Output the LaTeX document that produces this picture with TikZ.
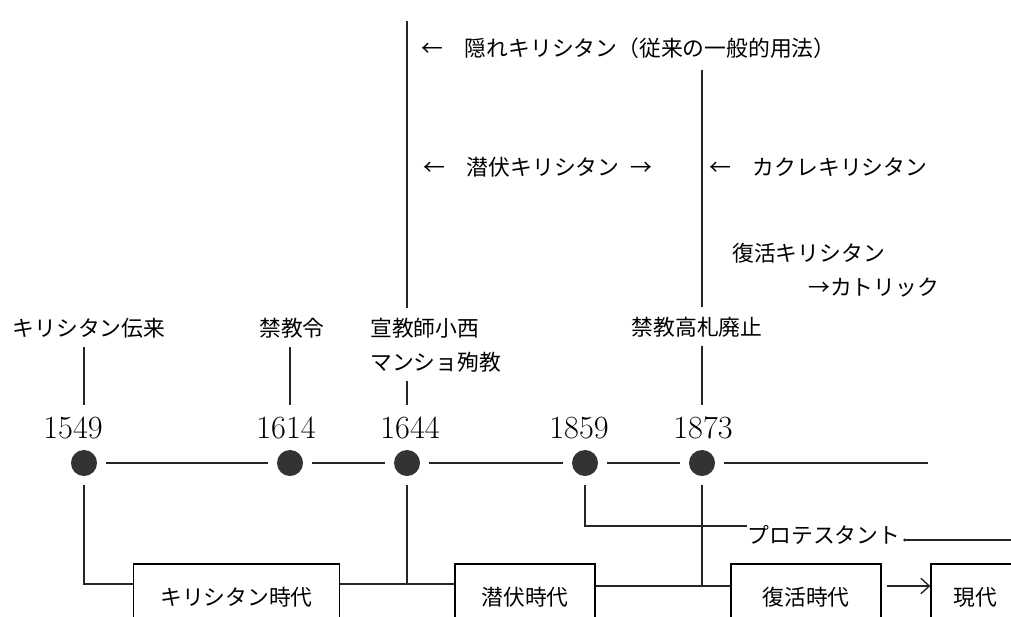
\documentclass[tikz,border=0pt]{standalone}
\usepackage{fontspec}
\newfontfamily\jp{Noto Sans CJK JP}
\usepackage{tikz}
\usetikzlibrary{arrows.meta}

\begin{document}
\begin{tikzpicture}[x=0.025cm, y=-0.025cm,
        dot/.style={circle, fill=black!80, inner sep=0pt, minimum size=18.5pt},
        jtext/.style={font=\jp\fontsize{15.5}{24}\selectfont, inner sep=0pt},
        year/.style={font=\fontsize{23}{26}\selectfont, inner sep=0pt},
        era/.style={draw, line width=0.9pt, font=\jp\fontsize{15.5}{18}\selectfont, minimum height=47pt, inner sep=0pt},
        line/.style={line width=1pt, black!85}]
        \useasboundingbox (0,0) rectangle (1011,617);

        % timeline
        \node[dot] (d1549) at (84,463) {};
        \node[dot] (d1614) at (290,463) {};
        \node[dot] (d1644) at (407,463) {};
        \node[dot] (d1859) at (585,463) {};
        \node[dot] (d1873) at (702,463) {};
        \coordinate (tend) at (928,463);

        \node[year] (y1549) at (73,428) {1549};
        \node[year] (y1614) at (286,428) {1614};
        \node[year] (y1644) at (410,428) {1644};
        \node[year] (y1859) at (579,428) {1859};
        \node[year] (y1873) at (703,428) {1873};

        \draw[line, shorten <=6.4pt, shorten >=6.4pt] (d1549) to (d1614);
        \draw[line, shorten <=6.4pt, shorten >=6.4pt] (d1614) to (d1644);
        \draw[line, shorten <=6.4pt, shorten >=6.4pt] (d1644) to (d1859);
        \draw[line, shorten <=6.4pt, shorten >=6.4pt] (d1859) to (d1873);
        \draw[line, shorten <=6.4pt] (d1873) to (tend);

        % events
        \node[jtext] (e1549) at (89,328) {キリシタン伝来};
        \node[jtext] (e1614) at (292,328) {禁教令};
        \node[jtext, align=left, anchor=west] (e1644) at (370,345) {宣教師小西\\マンショ殉教};
        \node[jtext] (e1873) at (697,327) {禁教高札廃止};

        \draw[line, shorten <=6pt, shorten >=8pt] (e1549.south -| d1549) to (y1549.north -| d1549);
        \draw[line, shorten <=6pt, shorten >=8pt] (e1614.south -| d1614) to (y1614.north -| d1614);
        \draw[line, shorten <=6pt, shorten >=8pt] (e1644.south -| d1644) to (y1644.north -| d1644);
        \draw[line, shorten <=6pt, shorten >=8pt] (e1873.south -| d1873) to (y1873.north -| d1873);

        \coordinate (top1644) at (407,21);
        \coordinate (top1873) at (702,70);
        \draw[line, shorten >=7pt] (top1644) to (e1644.north -| d1644);
        \draw[line, shorten >=7pt] (top1873) to (e1873.north -| d1873);

        % names
        \node[jtext, anchor=west] (kakure) at (421,48) {←\quad 隠れキリシタン（従来の一般的用法）};
        \node[jtext, anchor=west] (senpukuk) at (423,167) {←\quad 潜伏キリシタン\enspace →};
        \node[jtext, anchor=west] (kakurek) at (709,167) {←\quad カクレキリシタン};
        \node[jtext, anchor=west] (fukkatsuk) at (732,253) {復活キリシタン};
        \node[jtext, anchor=west] (catholic) at (808,288) {→カトリック};

        % eras
        \node[era, minimum width=147pt] (kirishitan) at (236.5,597) {キリシタン時代};
        \node[era, minimum width=99.6pt] (senpuku) at (525,597) {潜伏時代};
        \node[era, minimum width=106.7pt] (fukkatsu) at (806,597) {復活時代};
        \node[era, minimum width=62.6pt] (gendai) at (975,597) {現代};

        \coordinate (j1644) at (407,584);
        \coordinate (j1873) at (702,586);
        \coordinate (j1859) at (587,526);

        \draw[line, shorten <=6.4pt] (d1549) |- (kirishitan.west |- j1644);
        \draw[line] (kirishitan.east |- j1644) to (senpuku.west |- j1644);
        \draw[line, shorten <=6.4pt] (d1644) to (j1644);
        \draw[line] (senpuku.east |- j1873) to (fukkatsu.west |- j1873);
        \draw[line, shorten <=6.4pt] (d1873) to (j1873);
        \draw[line, -{Straight Barb[length=6pt, width=11pt]}, shorten <=4pt] (fukkatsu.east |- j1873) to (gendai.west |- j1873);

        % protestant
        \node[jtext] (prot) at (824,535) {プロテスタント};
        \coordinate (pend) at (1011,540);
        \draw[line, shorten <=6.4pt] (d1859) |- (prot.west |- j1859);
        \fill[black!85] ([xshift=3pt]prot.east |- pend) circle (1.6);
        \draw[line] ([xshift=3pt]prot.east |- pend) to (pend);
    \end{tikzpicture}
\end{document}
